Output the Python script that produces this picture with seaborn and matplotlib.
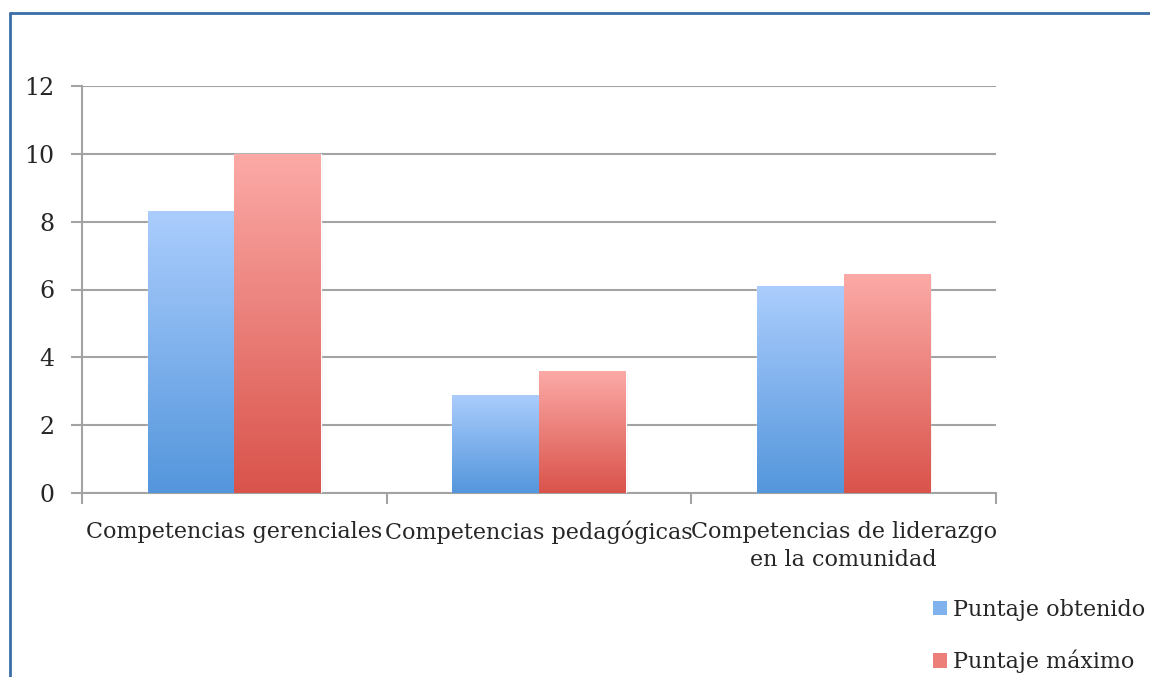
import numpy as np
import pandas as pd
import matplotlib
matplotlib.use("Agg")
import matplotlib.pyplot as plt
import seaborn as sns
from matplotlib.colors import LinearSegmentedColormap
from matplotlib.patches import Patch
from matplotlib.lines import Line2D

categories = ["Competencias gerenciales", "Competencias pedagógicas",
              "Competencias de liderazgo\nen la comunidad"]
series = ["Puntaje obtenido", "Puntaje máximo"]
obtenido = [8.3, 2.9, 6.1]
maximo = [10.0, 3.6, 6.45]
y_ticks = [0, 2, 4, 6, 8, 10, 12]

df = pd.DataFrame({
    "categoria": categories * 2,
    "serie": [series[0]] * 3 + [series[1]] * 3,
    "valor": obtenido + maximo,
})

# gradient ends (bottom, top) for each series
grad = {
    series[0]: ("#5496dc", "#abcdfd"),
    series[1]: ("#d9534b", "#fcaaa7"),
}
mid = {series[0]: "#80b2ee", series[1]: "#ec7f79"}

sns.set_style("white")
plt.rcParams["font.family"] = ["DejaVu Serif"]

fig = plt.figure(figsize=(11.5, 6.77), dpi=100)
ax = fig.add_axes([82 / 1150, 1 - 493 / 677, 914 / 1150, 407 / 677])

sns.barplot(data=df, x="categoria", y="valor", hue="serie", hue_order=series,
            order=categories, palette=mid, width=0.57, legend=False, ax=ax,
            saturation=1, zorder=3)

# gradient fill clipped to each bar
for cont, s in zip(ax.containers, series):
    cmap = LinearSegmentedColormap.from_list(s, list(grad[s]))
    for bar in cont:
        x, w, h = bar.get_x(), bar.get_width(), bar.get_height()
        # soft shadow
        ax.bar(x + w / 2 + 0.006, h, width=w, bottom=-0.08, color="#000000",
               alpha=0.05, zorder=2, linewidth=0)
        im = ax.imshow(np.linspace(0, 1, 256).reshape(-1, 1), cmap=cmap,
                       extent=[x, x + w, 0, h], origin="lower", aspect="auto",
                       zorder=4)
        im.set_clip_path(bar)

ax.set_xlim(-0.5, 2.5)
ax.set_ylim(0, 12)
ax.set_yticks(y_ticks)
ax.set_xlabel("")
ax.set_ylabel("")

ax.grid(axis="y", color="#a3a3a3", linewidth=1.5, zorder=0)
ax.set_axisbelow(True)
for side in ["top", "right"]:
    ax.spines[side].set_visible(False)
for side in ["left", "bottom"]:
    ax.spines[side].set_color("#a3a3a3")
    ax.spines[side].set_linewidth(1.5)

ax.set_xticks([-0.5, 0.5, 1.5, 2.5], minor=True)
ax.tick_params(axis="x", which="major", length=0, pad=20, labelsize=16)
ax.tick_params(axis="x", which="minor", length=8, width=1.5, color="#a3a3a3",
               direction="out", bottom=True)
ax.tick_params(axis="y", length=8, width=1.5, color="#a3a3a3", pad=12,
               labelsize=17, left=True)
for lab in ax.get_xticklabels():
    lab.set_linespacing(1.35)

handles = [Patch(facecolor=mid[s], edgecolor="none") for s in series]
fig.legend(handles, series, loc="center left",
           bbox_to_anchor=(913 / 1150, 1 - 636 / 677),
           frameon=False, fontsize=16, handlelength=0.65, handleheight=0.65,
           handletextpad=0.25, labelspacing=1.3)

# outer blue frame
fig.add_artist(Line2D([10 / 1150, 10 / 1150], [0, 1 - 13 / 677],
                      transform=fig.transFigure, color="#3b6ea6", lw=2))
fig.add_artist(Line2D([10 / 1150, 1], [1 - 13 / 677, 1 - 13 / 677],
                      transform=fig.transFigure, color="#3b6ea6", lw=2))

fig.savefig("out.png", dpi=100)
